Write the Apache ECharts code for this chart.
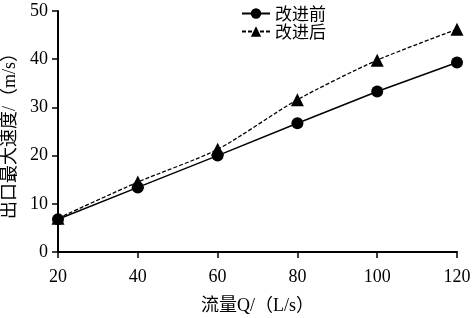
<!DOCTYPE html>
<html>
<head>
<meta charset="utf-8">
<script src="https://cdn.jsdelivr.net/npm/echarts@6/dist/echarts.min.js"></script>
<style>
  html, body { margin: 0; padding: 0; background: #fff; }
  #main { width: 472px; height: 318px; }
</style>
</head>
<body>
<div id="main"></div>
<script>
// 流量 Q (L/s)
const flowQ = [20, 40, 60, 80, 100, 120];
// 出口最大速度 (m/s)
const beforeVals = [6.8, 13.4, 20.0, 26.7, 33.3, 39.3];
const afterVals = [7.0, 14.5, 21.3, 31.6, 39.8, 46.2];
const seriesNames = ["改进前", "改进后"];

const serifFont = '"Liberation Serif", "Noto Sans CJK SC", serif';

const chart = echarts.init(document.getElementById("main"));
chart.setOption({
    animation: false,
    textStyle: { fontFamily: serifFont, color: "#000" },
    grid: { left: 58, right: 15, top: 11, bottom: 66, containLabel: false, outerBoundsMode: "none" },
    legend: {
        left: 236,
        top: 0,
        orient: "vertical",
        itemGap: 1,
        itemWidth: 28,
        itemHeight: 13,
        textStyle: { fontSize: 17, color: "#000", fontFamily: '"Noto Sans CJK SC", sans-serif' },
        data: seriesNames
    },
    xAxis: {
        type: "value",
        min: 20,
        max: 120,
        interval: 20,
        name: "流量Q/（L/s）",
        nameLocation: "middle",
        nameGap: 45,
        nameTextStyle: { fontSize: 18, color: "#000", fontFamily: serifFont },
        axisLine: { lineStyle: { color: "#000", width: 2 } },
        axisTick: { inside: false, length: 6, lineStyle: { color: "#000", width: 1.5 } },
        axisLabel: { fontSize: 18, color: "#000", margin: 16 },
        splitLine: { show: false }
    },
    yAxis: {
        type: "value",
        min: 0,
        max: 50,
        interval: 10,
        name: "出口最大速度/（m/s）",
        nameLocation: "middle",
        nameGap: 35,
        nameTextStyle: { fontSize: 18, color: "#000", fontFamily: serifFont },
        axisLine: { show: true, lineStyle: { color: "#000", width: 2 } },
        axisTick: { show: true, inside: false, length: 6, lineStyle: { color: "#000", width: 1.5 } },
        axisLabel: { fontSize: 18, color: "#000", margin: 10 },
        splitLine: { show: false }
    },
    series: [
        {
            name: seriesNames[0],
            type: "line",
            data: flowQ.map((q, i) => [q, beforeVals[i]]),
            symbol: "circle",
            symbolSize: 12,
            itemStyle: { color: "#000" },
            lineStyle: { color: "#000", width: 1.5 }
        },
        {
            name: seriesNames[1],
            type: "line",
            data: flowQ.map((q, i) => [q, afterVals[i]]),
            symbol: "triangle",
            symbolSize: 13,
            smooth: 0.25,
            itemStyle: { color: "#000" },
            lineStyle: { color: "#000", width: 1.3, type: [4, 2] }
        }
    ]
});
</script>
</body>
</html>
